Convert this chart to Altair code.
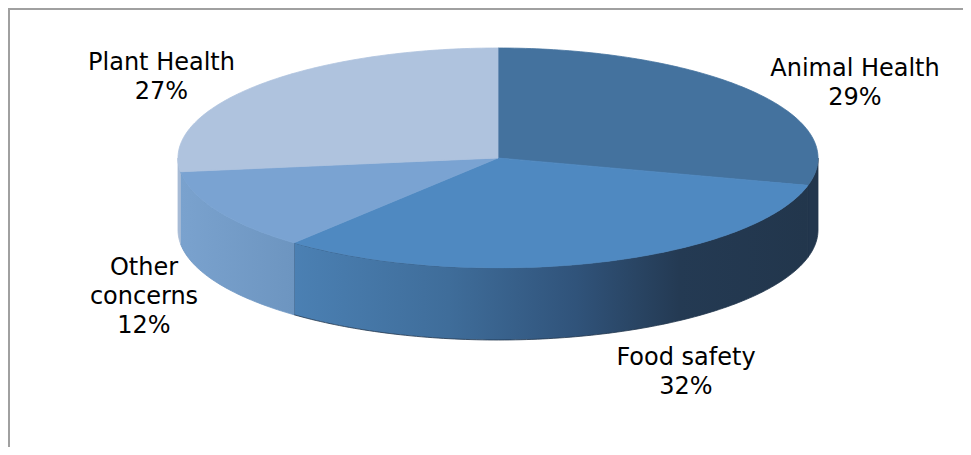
import numpy as np
import pandas as pd
import altair as alt

# ---- data ----
categories = ["Animal Health", "Food safety", "Other concerns", "Plant Health"]
shares = [29, 32, 12, 27]
label_names = ["Animal Health", "Food safety", "Other\nconcerns", "Plant Health"]

# ---- style / layout ----
top_colors = ["#44729e", "#4f89c1", "#7aa3d2", "#afc3de"]
side_fills = [
    "#22364d",
    alt.Gradient(gradient="linear", x1=0, x2=1, y1=0, y2=0, stops=[
        alt.GradientStop(offset=0.0, color="#4b80b3"),
        alt.GradientStop(offset=0.3, color="#3f6d9a"),
        alt.GradientStop(offset=0.55, color="#30537a"),
        alt.GradientStop(offset=0.75, color="#243a53"),
        alt.GradientStop(offset=1.0, color="#22364c"),
    ]),
    alt.Gradient(gradient="linear", x1=0, x2=1, y1=0, y2=0, stops=[
        alt.GradientStop(offset=0.0, color="#7aa2ce"),
        alt.GradientStop(offset=1.0, color="#6d95c0"),
    ]),
    "#a7bbd6",
]
side_strokes = ["#22364d", "#22364d", "#6f97c3", "#a7bbd6"]
label_x = [847, 678, 136, 153.5]
label_y = [68, 357, 267, 62]

W, H = 955, 439
CX, CY = 490, 150
RX, RY = 320, 110
DEPTH = 72


def ell(theta_deg, dy=0.0):
    t = np.radians(theta_deg)
    return CX + RX * np.sin(t), CY - RY * np.cos(t) + dy


xs = alt.Scale(domain=[0, W], nice=False, zero=False)
ys = alt.Scale(domain=[0, H], nice=False, zero=False, reverse=True)

cum = np.concatenate([[0], np.cumsum(shares)]) * 3.6
side_layers, top_layers = [], []
for k, cat in enumerate(categories):
    a0, a1 = cum[k], cum[k + 1]
    # top face
    n = max(2, int(a1 - a0) + 2)
    ang = np.linspace(a0, a1, n)
    px, py = ell(ang)
    xs_top = np.concatenate([[CX], px, [CX]])
    ys_top = np.concatenate([[CY], py, [CY]])
    df_top = pd.DataFrame({"x": xs_top, "y": ys_top, "i": np.arange(len(xs_top)), "cat": cat})
    top_layers.append(
        alt.Chart(df_top).mark_line(fill=top_colors[k], stroke=top_colors[k], strokeWidth=0.8)
        .encode(x=alt.X("x:Q", scale=xs, axis=None), y=alt.Y("y:Q", scale=ys, axis=None),
                order="i:Q")
    )
    # side face (front half only)
    s, e = max(a0, 90), min(a1, 270)
    if s < e:
        n = max(2, int(e - s) + 2)
        ang = np.linspace(s, e, n)
        tx, ty = ell(ang)
        bx, by = ell(ang[::-1], DEPTH)
        sx = np.concatenate([tx, bx, tx[:1]])
        sy = np.concatenate([ty, by, ty[:1]])
        df_side = pd.DataFrame({"x": sx, "y": sy, "i": np.arange(len(sx)), "cat": cat})
        side_layers.append(
            alt.Chart(df_side).mark_line(fill=side_fills[k], stroke=side_strokes[k], strokeWidth=0.8)
            .encode(x=alt.X("x:Q", scale=xs, axis=None), y=alt.Y("y:Q", scale=ys, axis=None),
                    order="i:Q")
        )

labels_df = pd.DataFrame({
    "x": label_x,
    "y": label_y,
    "text": [f"{n}\n{s}%" for n, s in zip(label_names, shares)],
})
text_layer = alt.Chart(labels_df).mark_text(
    font="DejaVu Sans", fontSize=24, lineHeight=29, baseline="alphabetic",
    align="center", color="#000000", lineBreak="\n"
).encode(x=alt.X("x:Q", scale=xs, axis=None), y=alt.Y("y:Q", scale=ys, axis=None), text="text:N")

frame_df = pd.DataFrame({"a": [0]})
left_rule = alt.Chart(frame_df).mark_rule(color="#a0a0a0", strokeWidth=2).encode(
    x=alt.value(1), y=alt.value(0), y2=alt.value(H))
top_rule = alt.Chart(frame_df).mark_rule(color="#a0a0a0", strokeWidth=2).encode(
    y=alt.value(1), x=alt.value(0), x2=alt.value(W))

chart = alt.layer(*side_layers, *top_layers, text_layer, left_rule, top_rule).properties(
    width=W, height=H, padding=0, autosize=alt.AutoSizeParams(type="none"),
    background="white"
).configure_view(stroke=None)

chart.save("out.html", embed_options={"renderer": "svg", "actions": False})
